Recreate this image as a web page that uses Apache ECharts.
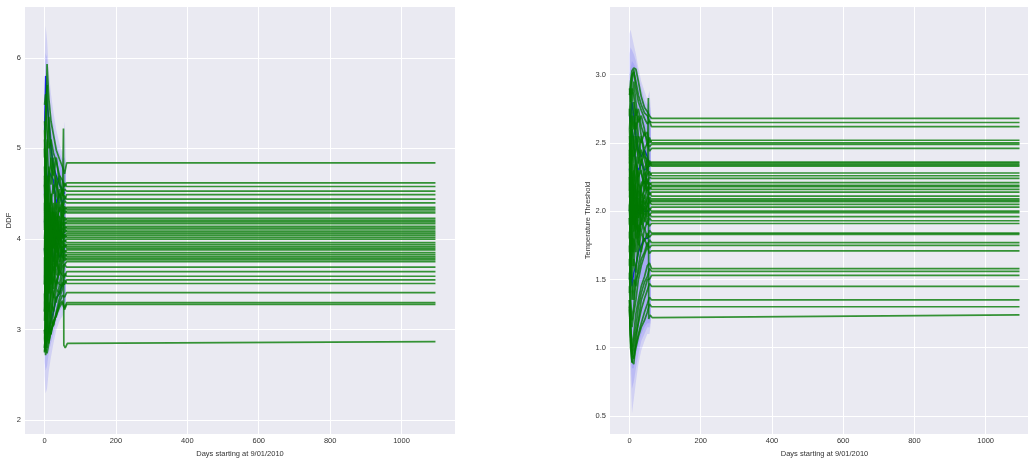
<!DOCTYPE html>
<html><head><meta charset="utf-8">
<script src="https://cdn.jsdelivr.net/npm/echarts@6/dist/echarts.min.js"></script>
<style>html,body{margin:0;padding:0;background:#fff}#c{width:1028px;height:460px}</style>
</head><body><div id="c"></div>
<script>
// ---------- shared axes / days ----------
const earlyDays = [0, 3, 7, 12, 18, 25, 33, 42, 50, 56];
const convergeDay = 62;
const lastDay = 1095;
const bandDays = [0, 3, 7, 12, 18, 25, 33, 42, 50, 56, 60];
const xTicks = [0, 200, 400, 600, 800, 1000];
const leftYTicks = [2, 3, 4, 5, 6];
const rightYTicks = [0.5, 1.0, 1.5, 2.0, 2.5, 3.0];
const xLabel = 'Days starting at 9/01/2010';
const leftYLabel = 'DDF';
const rightYLabel = 'Temperature Threshold';

// ---------- left panel (DDF) ----------
const leftFinal = [4.84, 4.62, 4.58, 4.53, 4.49, 4.44, 4.40, 4.35, 4.33, 4.31, 4.29, 4.23, 4.21, 4.19,
  4.17, 4.14, 4.12, 4.10, 4.08, 4.06, 4.04, 4.02, 4.00, 3.96, 3.94, 3.92, 3.90, 3.88, 3.85, 3.83,
  3.81, 3.79, 3.77, 3.75, 3.69, 3.64, 3.59, 3.55, 3.51, 3.41, 3.30, 3.28];
const leftEarly = [
  [5.30, 5.10, 5.93, 5.55, 5.30, 5.15, 4.98, 4.88, 4.80, 4.72],
  [5.48, 5.60, 5.20, 5.00, 5.10, 4.95, 4.85, 4.70, 4.65, 4.58],
  [4.90, 5.40, 5.70, 5.20, 4.80, 4.70, 4.90, 4.60, 4.50, 4.62],
  [4.60, 4.30, 4.95, 5.35, 5.05, 4.75, 4.55, 4.70, 4.48, 4.55],
  [5.20, 4.70, 4.40, 4.80, 4.60, 4.90, 4.60, 4.45, 4.55, 4.43],
  [4.30, 4.80, 5.10, 4.60, 4.90, 4.50, 4.70, 4.40, 4.50, 4.47],
  [3.90, 4.50, 4.20, 4.70, 4.40, 4.60, 4.30, 4.55, 4.35, 4.42],
  [4.70, 4.20, 4.60, 4.10, 4.50, 4.25, 4.55, 4.30, 4.40, 4.32],
  [5.00, 4.60, 4.10, 4.40, 3.90, 4.30, 4.10, 4.40, 4.28, 4.36],
  [3.70, 4.10, 4.50, 3.90, 4.30, 4.05, 4.40, 4.20, 4.35, 4.28],
  [4.40, 3.80, 4.30, 4.60, 4.10, 4.40, 4.15, 4.35, 4.22, 4.32],
  [4.10, 4.70, 3.90, 4.20, 4.50, 4.00, 4.30, 4.10, 4.28, 4.20],
  [3.50, 3.90, 4.40, 4.00, 3.80, 4.30, 4.05, 4.25, 4.15, 4.24],
  [4.60, 4.90, 4.30, 3.80, 4.20, 3.95, 4.25, 4.05, 4.22, 4.16],
  [3.90, 3.60, 4.00, 4.40, 3.90, 4.20, 3.95, 4.20, 4.10, 4.19],
  [4.80, 4.20, 3.70, 4.10, 4.35, 3.90, 4.20, 4.00, 4.18, 4.11],
  [3.30, 3.80, 4.20, 3.70, 4.00, 4.25, 3.95, 4.15, 4.05, 4.15],
  [4.20, 4.50, 4.00, 4.30, 3.80, 4.10, 4.30, 3.95, 4.12, 4.07],
  [3.60, 4.00, 3.60, 3.90, 4.20, 3.85, 4.05, 4.20, 4.00, 4.11],
  [5.10, 4.40, 4.70, 4.20, 3.90, 4.15, 3.90, 4.10, 4.02, 4.04],
  [3.80, 3.40, 3.90, 4.30, 4.00, 3.75, 4.10, 3.95, 4.08, 4.01],
  [4.50, 4.10, 4.40, 3.70, 4.10, 4.30, 3.85, 4.05, 3.95, 4.05],
  [3.20, 3.70, 3.40, 3.80, 4.15, 3.90, 4.10, 3.90, 4.05, 3.97],
  [4.00, 4.30, 3.80, 4.10, 3.70, 4.00, 3.80, 4.05, 3.90, 3.99],
  [2.90, 3.30, 3.70, 3.40, 3.80, 3.60, 3.95, 3.80, 3.98, 3.91],
  [4.30, 3.90, 4.20, 3.60, 3.95, 4.10, 3.75, 3.95, 3.86, 3.95],
  [3.40, 3.10, 3.50, 3.90, 3.60, 3.85, 3.70, 3.95, 3.85, 3.93],
  [3.90, 3.50, 3.20, 3.60, 3.90, 3.65, 3.95, 3.75, 3.92, 3.85],
  [4.60, 4.00, 3.60, 3.90, 3.50, 3.80, 3.60, 3.90, 3.80, 3.88],
  [3.10, 3.60, 3.30, 3.10, 3.50, 3.70, 3.50, 3.75, 3.86, 3.80],
  [3.70, 3.20, 3.80, 3.40, 3.70, 3.45, 3.80, 3.65, 3.78, 3.84],
  [2.80, 3.00, 3.40, 3.20, 3.40, 3.60, 3.45, 3.70, 3.82, 3.76],
  [3.50, 3.90, 3.30, 3.70, 3.30, 3.55, 3.75, 3.60, 3.74, 3.80],
  [3.00, 2.80, 3.10, 3.30, 3.10, 3.40, 3.55, 3.50, 3.70, 3.72],
  [3.60, 3.20, 3.00, 3.40, 3.60, 3.35, 3.50, 3.65, 3.60, 3.72],
  [2.75, 3.10, 2.90, 3.00, 3.30, 3.20, 3.45, 3.40, 3.60, 3.58],
  [3.30, 2.90, 3.20, 2.95, 3.15, 3.40, 3.30, 3.50, 3.48, 3.62],
  [2.90, 2.72, 2.73, 3.10, 2.95, 3.20, 3.35, 3.40, 3.52, 3.50],
  [3.20, 3.40, 2.90, 2.85, 3.10, 3.05, 3.20, 3.35, 3.45, 3.55],
  [2.80, 3.00, 2.80, 3.00, 2.95, 3.10, 3.15, 3.30, 3.38, 3.36],
  [2.76, 2.75, 3.00, 2.88, 3.00, 3.05, 3.18, 3.28, 3.32, 3.24],
  [3.00, 2.80, 2.74, 2.85, 2.98, 3.08, 3.16, 3.25, 3.30, 3.22]
];
const leftSpike = [[0, 4.20], [3, 3.90], [7, 4.30], [12, 3.80], [18, 4.10], [25, 3.90], [33, 4.20],
  [42, 4.00], [50, 4.30], [53, 5.22], [54, 2.83], [58, 2.80], [64, 2.85], [1095, 2.87]];
const leftBlueLines = [
  [5.20, 5.80, 5.50, 5.30, 5.00, 4.80, 4.70, 4.60, 4.55, 4.50],
  [4.50, 4.90, 4.60, 4.75, 4.70, 4.65, 4.40, 4.50, 4.40, 4.45],
  [3.90, 3.60, 3.95, 3.70, 4.00, 3.75, 3.95, 3.80, 3.85, 3.90],
  [3.00, 2.95, 3.05, 3.00, 3.10, 3.20, 3.35, 3.40, 3.50, 3.50],
  [4.20, 4.00, 3.80, 4.10, 3.90, 4.05, 4.00, 4.10, 4.05, 4.08]
];
const leftBandUpper = [
  [5.90, 6.35, 6.20, 5.85, 5.60, 5.40, 5.20, 5.05, 4.95, 5.30, 4.90],
  [5.60, 6.05, 6.00, 5.65, 5.40, 5.25, 5.05, 4.95, 4.88, 4.90, 4.85],
  [5.30, 5.70, 5.80, 5.45, 5.20, 5.05, 4.95, 4.85, 4.80, 4.80, 4.80]
];
const leftBandLower = [
  [2.50, 2.30, 2.35, 2.55, 2.70, 2.85, 3.00, 3.10, 3.15, 3.20, 3.25],
  [2.65, 2.55, 2.60, 2.75, 2.85, 2.95, 3.10, 3.20, 3.25, 3.25, 3.28],
  [2.80, 2.75, 2.80, 2.90, 3.00, 3.10, 3.20, 3.30, 3.35, 3.30, 3.30]
];

// ---------- right panel (Temperature Threshold) ----------
const rightFinal = [2.68, 2.65, 2.62, 2.52, 2.50, 2.49, 2.46, 2.36, 2.35, 2.34, 2.33, 2.28, 2.26, 2.24,
  2.21, 2.19, 2.18, 2.16, 2.14, 2.11, 2.09, 2.08, 2.07, 2.05, 2.03, 2.00, 1.99, 1.96, 1.93, 1.91,
  1.84, 1.83, 1.77, 1.75, 1.71, 1.58, 1.56, 1.53, 1.45, 1.35, 1.30];
const rightEarly = [
  [2.85, 2.95, 3.03, 3.05, 3.04, 2.95, 2.84, 2.76, 2.73, 2.70],
  [2.70, 2.90, 3.00, 3.02, 2.95, 2.85, 2.78, 2.72, 2.70, 2.66],
  [2.90, 2.80, 2.95, 3.04, 2.90, 2.80, 2.74, 2.68, 2.64, 2.66],
  [2.60, 2.75, 2.90, 2.85, 2.70, 2.75, 2.62, 2.55, 2.58, 2.50],
  [2.40, 2.60, 2.80, 2.95, 2.80, 2.65, 2.70, 2.60, 2.48, 2.54],
  [2.75, 2.55, 2.70, 2.60, 2.75, 2.55, 2.50, 2.58, 2.52, 2.47],
  [2.30, 2.50, 2.65, 2.80, 2.60, 2.70, 2.55, 2.45, 2.50, 2.44],
  [2.50, 2.30, 2.55, 2.70, 2.50, 2.40, 2.55, 2.40, 2.38, 2.34],
  [2.20, 2.45, 2.30, 2.55, 2.65, 2.45, 2.35, 2.45, 2.32, 2.37],
  [2.60, 2.40, 2.60, 2.40, 2.45, 2.55, 2.40, 2.30, 2.38, 2.33],
  [2.10, 2.30, 2.45, 2.35, 2.55, 2.35, 2.45, 2.38, 2.30, 2.36],
  [2.45, 2.20, 2.40, 2.55, 2.35, 2.25, 2.38, 2.25, 2.32, 2.26],
  [2.00, 2.25, 2.10, 2.30, 2.20, 2.40, 2.28, 2.20, 2.27, 2.29],
  [2.35, 2.50, 2.25, 2.10, 2.35, 2.20, 2.15, 2.30, 2.20, 2.25],
  [1.90, 2.10, 2.30, 2.15, 2.05, 2.25, 2.30, 2.15, 2.24, 2.19],
  [2.25, 2.05, 1.95, 2.25, 2.40, 2.10, 2.20, 2.25, 2.15, 2.21],
  [2.55, 2.35, 2.15, 2.05, 2.20, 2.30, 2.10, 2.15, 2.22, 2.16],
  [1.80, 2.00, 2.20, 2.35, 2.10, 2.00, 2.18, 2.22, 2.12, 2.18],
  [2.15, 2.35, 2.05, 1.90, 2.05, 2.20, 2.05, 2.10, 2.18, 2.12],
  [1.95, 1.80, 2.00, 2.20, 2.15, 1.95, 2.15, 2.05, 2.08, 2.14],
  [2.40, 2.15, 1.90, 2.05, 1.95, 2.10, 1.98, 2.12, 2.05, 2.10],
  [1.70, 1.95, 2.10, 1.85, 2.05, 2.15, 2.00, 2.02, 2.12, 2.06],
  [2.05, 1.85, 1.75, 2.00, 2.20, 1.95, 2.10, 2.00, 2.04, 2.09],
  [2.30, 2.05, 2.25, 1.95, 1.85, 2.05, 1.95, 2.08, 2.00, 2.07],
  [1.60, 1.80, 1.95, 2.10, 1.90, 1.85, 2.05, 1.95, 2.06, 2.01],
  [2.00, 2.20, 1.85, 1.70, 1.95, 2.10, 1.90, 2.04, 1.96, 2.02],
  [1.85, 1.65, 1.90, 2.05, 1.80, 1.95, 2.05, 1.92, 2.01, 1.97],
  [2.20, 1.95, 1.70, 1.85, 2.00, 1.80, 1.92, 2.00, 1.93, 1.98],
  [1.50, 1.70, 1.60, 1.80, 1.70, 1.90, 1.85, 1.95, 1.90, 1.95],
  [1.75, 1.55, 1.80, 1.60, 1.85, 1.75, 1.95, 1.86, 1.93, 1.89],
  [1.95, 1.75, 1.50, 1.65, 1.55, 1.80, 1.70, 1.88, 1.80, 1.86],
  [1.40, 1.60, 1.45, 1.35, 1.60, 1.70, 1.85, 1.78, 1.84, 1.81],
  [1.65, 1.45, 1.35, 1.50, 1.45, 1.60, 1.72, 1.80, 1.74, 1.79],
  [1.30, 1.35, 1.20, 1.30, 1.50, 1.55, 1.65, 1.70, 1.77, 1.73],
  [1.55, 1.30, 1.15, 1.25, 1.35, 1.50, 1.60, 1.68, 1.74, 1.69],
  [1.35, 1.15, 1.00, 1.10, 1.25, 1.35, 1.45, 1.52, 1.60, 1.62],
  [1.45, 1.20, 0.95, 1.05, 1.15, 1.30, 1.40, 1.48, 1.52, 1.58],
  [1.30, 1.05, 0.90, 0.88, 1.05, 1.20, 1.35, 1.42, 1.50, 1.50],
  [1.35, 1.10, 0.95, 1.00, 1.10, 1.18, 1.28, 1.36, 1.42, 1.47],
  [1.30, 1.00, 0.89, 0.96, 1.02, 1.10, 1.18, 1.26, 1.32, 1.37],
  [1.28, 1.10, 0.95, 0.92, 1.00, 1.08, 1.15, 1.20, 1.26, 1.32]
];
const rightSpike = [[0, 2.00], [3, 1.80], [7, 2.20], [12, 1.90], [18, 2.10], [25, 1.80], [33, 2.00],
  [42, 2.20], [50, 2.30], [53, 2.83], [54, 1.21], [58, 1.24], [64, 1.22], [1095, 1.24]];
const rightBlueLines = [
  [2.70, 2.65, 2.80, 2.70, 2.55, 2.45, 2.40, 2.45, 2.40, 2.35],
  [1.50, 1.60, 1.45, 1.55, 1.60, 1.70, 1.75, 1.80, 1.80, 1.82],
  [2.00, 2.10, 1.95, 2.00, 2.05, 1.98, 2.02, 2.00, 2.00, 2.00],
  [2.30, 2.40, 2.60, 2.50, 2.35, 2.30, 2.35, 2.30, 2.32, 2.33]
];
const rightBandUpper = [
  [3.30, 3.33, 3.28, 3.22, 3.15, 3.05, 2.95, 2.88, 2.82, 2.88, 2.75],
  [3.15, 3.20, 3.18, 3.15, 3.10, 3.00, 2.90, 2.82, 2.78, 2.80, 2.72],
  [3.00, 3.05, 3.10, 3.08, 3.05, 2.95, 2.85, 2.78, 2.74, 2.74, 2.70]
];
const rightBandLower = [
  [1.10, 0.80, 0.52, 0.62, 0.75, 0.88, 0.98, 1.05, 1.10, 1.10, 1.18],
  [1.20, 0.92, 0.70, 0.75, 0.85, 0.95, 1.05, 1.10, 1.15, 1.15, 1.20],
  [1.30, 1.05, 0.85, 0.85, 0.95, 1.02, 1.10, 1.15, 1.18, 1.18, 1.22]
];

// ---------- build ----------
const FONT = 'Liberation Sans, Arial, sans-serif';
const TXT = '#333';
const GREEN = 'rgba(0,120,0,0.78)';
const BLUE = 'rgba(0,0,255,0.85)';
const BAND = 'rgba(60,60,255,0.14)';

function bandSeries(gi, upper, lower) {
  return {
    type: 'custom', xAxisIndex: gi, yAxisIndex: gi, silent: true, z: 1,
    data: upper.map((u, k) => [bandDays[0], lower[k][0]]),
    renderItem: function (params, api) {
      const k = params.dataIndex;
      const pts = [];
      bandDays.forEach((d, j) => pts.push(api.coord([d, upper[k][j]])));
      for (let j = bandDays.length - 1; j >= 0; j--) pts.push(api.coord([bandDays[j], lower[k][j]]));
      return { type: 'polygon', shape: { points: pts }, style: { fill: BAND, stroke: null } };
    }
  };
}
function lineSeries(gi, data, color, w, z) {
  return { type: 'line', xAxisIndex: gi, yAxisIndex: gi, data: data, showSymbol: false, symbol: 'none',
    silent: true, z: z, lineStyle: { color: color, width: w }, animation: false };
}
function panelSeries(gi, early, finals, spike, blues, bu, bl) {
  const s = [];
  s.push(bandSeries(gi, bu, bl));
  blues.forEach(v => s.push(lineSeries(gi, earlyDays.map((d, j) => [d, v[j]]), BLUE, 1.4, 2)));
  early.forEach((v, i) => {
    const d = earlyDays.map((dd, j) => [dd, v[j]]);
    d.push([convergeDay, finals[i]]);
    d.push([lastDay, finals[i]]);
    s.push(lineSeries(gi, d, GREEN, 1.7, 3));
  });
  s.push(lineSeries(gi, spike, GREEN, 1.7, 3));
  return s;
}
function xAx(gi) {
  return { type: 'value', gridIndex: gi, min: -54.75, max: 1149.75,
    name: xLabel, nameLocation: 'middle', nameGap: 11,
    nameTextStyle: { fontSize: 7.5, color: TXT, fontFamily: FONT },
    axisLine: { show: false }, axisTick: { show: false, customValues: xTicks },
    axisLabel: { customValues: xTicks, fontSize: 7.5, color: TXT, fontFamily: FONT, margin: 3, formatter: v => String(v) },
    splitLine: { show: true, lineStyle: { color: '#ffffff', width: 1 } } };
}
function yAx(gi, min, max, ticks, name, gap, fmt) {
  return { type: 'value', gridIndex: gi, min: min, max: max,
    name: name, nameLocation: 'middle', nameGap: gap, nameRotate: 90,
    nameTextStyle: { fontSize: 7.5, color: TXT, fontFamily: FONT },
    axisLine: { show: false }, axisTick: { show: false, customValues: ticks },
    axisLabel: { customValues: ticks, fontSize: 7.5, color: TXT, fontFamily: FONT, margin: 4, formatter: fmt },
    splitLine: { show: true, lineStyle: { color: '#ffffff', width: 1 } } };
}

const chart = echarts.init(document.getElementById('c'), null, { renderer: 'canvas' });
chart.setOption({
  animation: false,
  backgroundColor: '#ffffff',
  grid: [
    { left: 25, top: 7, width: 430, height: 427, show: true, backgroundColor: '#EAEAF2', borderWidth: 0,
      containLabel: false, outerBoundsMode: 'none' },
    { left: 610, top: 7, width: 429, height: 427, show: true, backgroundColor: '#EAEAF2', borderWidth: 0,
      containLabel: false, outerBoundsMode: 'none' }
  ],
  xAxis: [xAx(0), xAx(1)],
  yAxis: [
    yAx(0, 1.85, 6.56, leftYTicks, leftYLabel, 11, v => String(v)),
    yAx(1, 0.368, 3.496, rightYTicks, rightYLabel, 16, v => v.toFixed(1))
  ],
  series: [].concat(
    panelSeries(0, leftEarly, leftFinal, leftSpike, leftBlueLines, leftBandUpper, leftBandLower),
    panelSeries(1, rightEarly, rightFinal, rightSpike, rightBlueLines, rightBandUpper, rightBandLower)
  )
});
</script></body></html>
